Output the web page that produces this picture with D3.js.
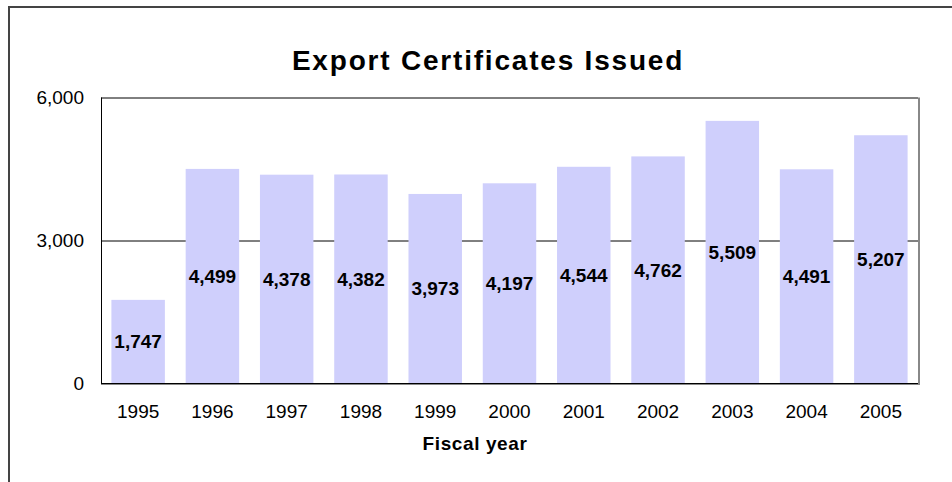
<!DOCTYPE html>
<html>
<head>
<meta charset="utf-8">
<script src="https://cdn.jsdelivr.net/npm/d3@7"></script>
<style>
  body { margin: 0; background: #fff; }
  svg { display: block; font-family: Arial, "Liberation Sans", sans-serif; }
</style>
</head>
<body>
<svg id="chart" width="952" height="482"></svg>
<script>
// chart data
const years = ['1995', '1996', '1997', '1998', '1999', '2000', '2001', '2002', '2003', '2004', '2005'];
const certificates = [1747, 4499, 4378, 4382, 3973, 4197, 4544, 4762, 5509, 4491, 5207];
const yTicks = [0, 3000, 6000];

const svg = d3.select('#chart');
const margin = { top: 97.5, bottom: 99, left: 101, right: 34 };
const width = 952, height = 482;
const innerW = width - margin.left - margin.right;
const innerH = height - margin.top - margin.bottom;
const font = 'Arial, "Liberation Sans", sans-serif';

// outer frame (left, top)
svg.append('path')
  .attr('d', `M9,${height} V7 H${width}`)
  .attr('fill', 'none')
  .attr('stroke', '#444')
  .attr('stroke-width', 2);

svg.append('text')
  .attr('x', 488)
  .attr('y', 70)
  .attr('text-anchor', 'middle')
  .attr('font-size', 28)
  .attr('letter-spacing', 1.8)
  .attr('font-weight', 'bold')
  .text('Export Certificates Issued');

const x = d3.scaleBand().domain(years).range([0, innerW]).paddingInner(0.28).paddingOuter(0.14);
const y = d3.scaleLinear().domain([0, 6000]).range([innerH, 0]);

const g = svg.append('g')
  .attr('transform', `translate(${margin.left},${margin.top})`);

// gridlines
g.append('g')
  .selectAll('line')
  .data(yTicks)
  .join('line')
  .attr('x1', 0).attr('x2', innerW)
  .attr('y1', d => Math.round(y(d)) + 0.5).attr('y2', d => Math.round(y(d)) + 0.5)
  .attr('stroke', '#000');

// bars
g.append('g')
  .selectAll('rect')
  .data(certificates)
  .join('rect')
  .attr('x', (d, i) => x(years[i]))
  .attr('y', d => y(d))
  .attr('width', x.bandwidth())
  .attr('height', d => innerH - y(d))
  .attr('fill', '#CFCFFC');

// plot frame
g.append('line')
  .attr('x1', 0.5).attr('x2', 0.5).attr('y1', 0).attr('y2', innerH)
  .attr('stroke', '#000');
g.append('path')
  .attr('d', `M${innerW + 1},0 V${innerH + 1} H0`)
  .attr('fill', 'none')
  .attr('stroke', '#888')
  .attr('stroke-width', 2);
g.append('line')
  .attr('x1', 0).attr('x2', innerW).attr('y1', innerH + 0.5).attr('y2', innerH + 0.5)
  .attr('stroke', '#000');

// value labels in the middle of bars
g.append('g')
  .selectAll('text')
  .data(certificates)
  .join('text')
  .attr('x', (d, i) => x(years[i]) + x.bandwidth() / 2)
  .attr('y', d => (y(d) + innerH) / 2)
  .attr('dy', '0.36em')
  .attr('text-anchor', 'middle')
  .attr('font-size', 19)
  .attr('font-weight', 'bold')
  .text(d => d3.format(',')(d));

// y axis labels
const yAxis = g.append('g')
  .call(d3.axisLeft(y).tickValues(yTicks).tickFormat(d3.format(',')).tickSize(0).tickPadding(17));
yAxis.select('.domain').remove();
yAxis.selectAll('text').attr('font-size', 19).attr('font-family', font).attr('fill', '#000');

// x axis labels
const xAxis = g.append('g')
  .attr('transform', `translate(0,${innerH})`)
  .call(d3.axisBottom(x).tickSize(0).tickPadding(22));
xAxis.select('.domain').remove();
xAxis.selectAll('text').attr('font-size', 19).attr('font-family', font).attr('fill', '#000');

svg.append('text')
  .attr('x', 475)
  .attr('y', 450)
  .attr('text-anchor', 'middle')
  .attr('font-size', 19)
  .attr('letter-spacing', 0.6)
  .attr('font-weight', 'bold')
  .text('Fiscal year');
</script>
</body>
</html>
